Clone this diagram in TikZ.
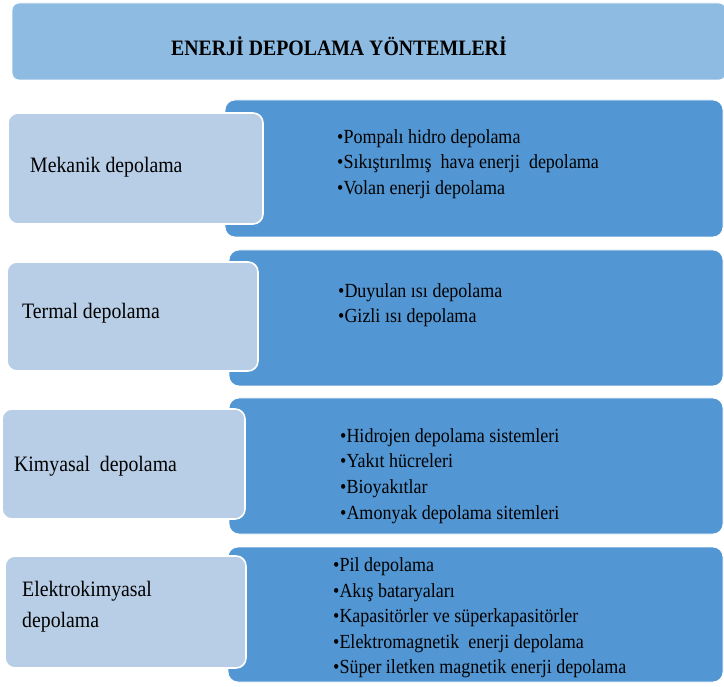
\documentclass[tikz,border=0pt]{standalone}
\usepackage{fontspec}
\setmainfont{Liberation Serif}[FakeStretch=0.9]
\definecolor{titleblue}{RGB}{142,187,226}
\definecolor{darkblue}{RGB}{82,151,211}
\definecolor{lightblue}{RGB}{184,206,230}
\begin{document}
\begin{tikzpicture}[x=1pt,y=-1pt,
  titlebox/.style={fill=titleblue, draw=white, line width=0.8pt, rounded corners=7pt, minimum width=#1, inner sep=0},
  detailbox/.style={fill=darkblue, draw=white, line width=0.8pt, rounded corners=10pt, inner sep=0},
  catbox/.style={fill=lightblue, draw=white, line width=1.6pt, rounded corners=10pt, inner sep=0},
  cattext/.style={anchor=west, font=\fontsize{22}{31}\selectfont, align=left, inner sep=0, text=black},
  itemtext/.style={anchor=west, font=\fontsize{20}{25.6}\selectfont, align=left, inner sep=0, text=black},
  titletext/.style={font=\bfseries\fontsize{22}{26}\selectfont, inner sep=0, text=black}
]
\useasboundingbox (0,0) rectangle (724,687);
\fill[white] (0,0) rectangle (724,687);

% title
\node[titlebox=714pt, minimum height=77pt] (title) at (369,41.5) {};
\node[titletext] (titlelbl) at (339,46) {ENERJİ DEPOLAMA YÖNTEMLERİ};

% row 1
\node[detailbox, minimum width=498pt, minimum height=137pt] (d1) at (474,168.5) {};
\node[catbox, minimum width=255pt, minimum height=111pt] (c1) at (135.5,168.5) {};
\node[cattext] (c1t) at (30,167) {Mekanik depolama};
\node[itemtext] (d1t) at (337,164) {•Pompalı hidro depolama\\•Sıkıştırılmış\ \ hava enerji\ \ depolama\\•Volan enerji depolama};

% row 2
\node[detailbox, minimum width=494pt, minimum height=136pt] (d2) at (476,318) {};
\node[catbox, minimum width=251pt, minimum height=109pt] (c2) at (132.5,316.5) {};
\node[cattext] (c2t) at (22,313) {Termal depolama};
\node[itemtext] (d2t) at (338,305) {•Duyulan ısı depolama\\•Gizli ısı depolama};

% row 3
\node[detailbox, minimum width=494pt, minimum height=136pt] (d3) at (476,466) {};
\node[catbox, minimum width=243pt, minimum height=110pt] (c3) at (123.5,464) {};
\node[cattext] (c3t) at (14,466) {Kimyasal\ \ depolama};
\node[itemtext] (d3t) at (340,476) {•Hidrojen depolama sistemleri\\•Yakıt hücreleri\\•Bioyakıtlar\\•Amonyak depolama sitemleri};

% row 4
\node[detailbox, minimum width=495pt, minimum height=135pt] (d4) at (475.5,614.5) {};
\node[catbox, minimum width=241pt, minimum height=112pt] (c4) at (125.5,612) {};
\node[cattext] (c4t) at (22,607) {Elektrokimyasal\\depolama};
\node[itemtext] (d4t) at (333,618) {•Pil depolama\\•Akış bataryaları\\•Kapasitörler ve süperkapasitörler\\•Elektromagnetik\ \ enerji depolama\\•Süper iletken magnetik enerji depolama};
\end{tikzpicture}
\end{document}
